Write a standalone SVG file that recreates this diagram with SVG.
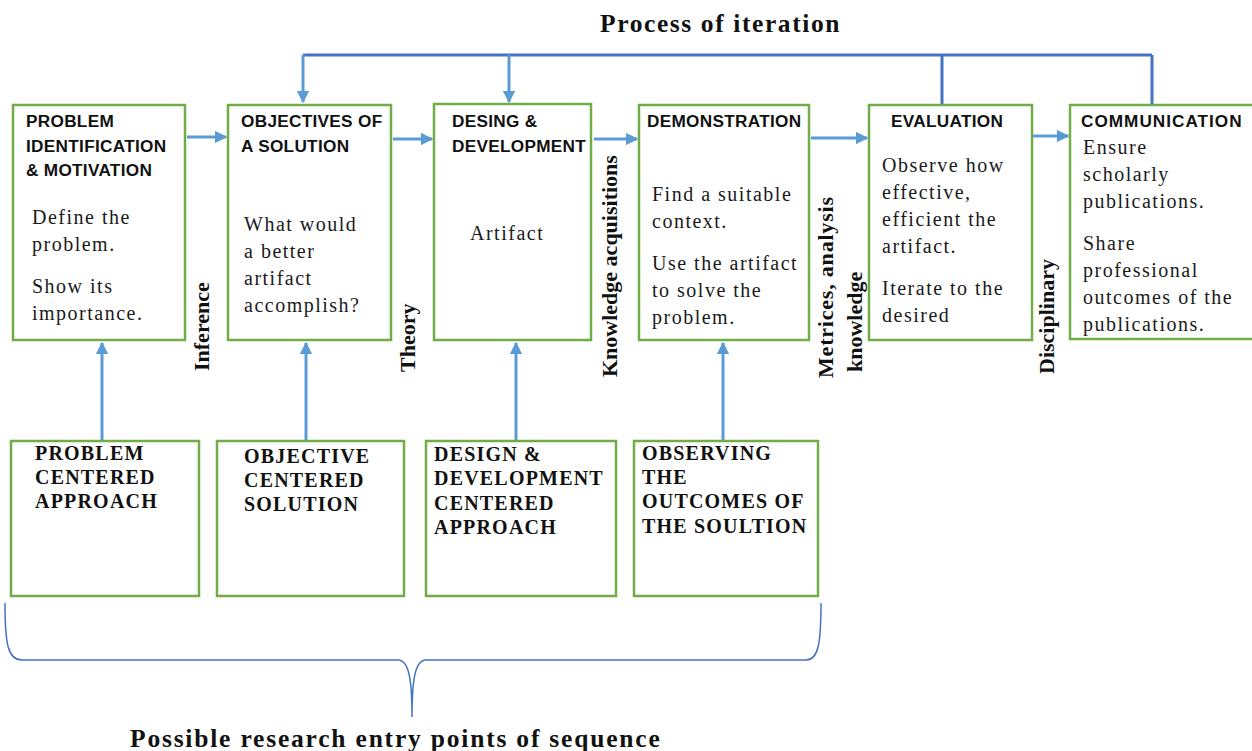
<svg xmlns="http://www.w3.org/2000/svg" width="1252" height="751" viewBox="0 0 1252 751">
  <style>
    .box { fill: #fff; stroke: #70AD47; stroke-width: 2.5; }
    .hdr { font-family: "Liberation Sans", Arial, sans-serif; font-weight: bold; font-size: 17.2px; letter-spacing: 0.3px; fill: #111; }
    .body { font-family: "Liberation Serif", "Times New Roman", serif; font-size: 20px; letter-spacing: 1.5px; fill: #1a1a1a; }
    .entry { font-family: "Liberation Serif", "Times New Roman", serif; font-weight: bold; font-size: 20px; letter-spacing: 1.2px; fill: #111; }
    .side { font-family: "Liberation Serif", "Times New Roman", serif; font-weight: bold; font-size: 22px; fill: #111; }
    .title { font-family: "Liberation Serif", "Times New Roman", serif; font-weight: bold; font-size: 25.5px; letter-spacing: 1.6px; fill: #111; }
    .flow { fill: none; stroke: #5B9BD5; stroke-width: 3; }
    .iter { fill: none; stroke: #4472C4; stroke-width: 3; }
    .brace { fill: none; stroke: #4472C4; stroke-width: 1.5; }
  </style>
  <defs>
    <marker id="arr" viewBox="0 0 10 10" refX="9" refY="5" markerWidth="4.2" markerHeight="4.2" markerUnits="strokeWidth" orient="auto">
      <path d="M0,0 L10,5 L0,10 z" fill="#5B9BD5"/>
    </marker>
  </defs>

  <rect width="1252" height="751" fill="#fff"/>

  <!-- title -->
  <text class="title" x="600" y="32">Process of iteration</text>

  <!-- connectors -->
  <g id="connectors">
    <!-- iteration loop -->
    <path class="iter" d="M303,55 H1152"/>
    <path class="iter" d="M942,55 V105"/>
    <path class="iter" d="M1152,55 V105"/>
    <path class="flow" d="M303,55 V102" marker-end="url(#arr)"/>
    <path class="flow" d="M509,55 V102" marker-end="url(#arr)"/>
    <!-- forward flow -->
    <path class="flow" d="M187,137 H226" marker-end="url(#arr)"/>
    <path class="flow" d="M393,139 H432" marker-end="url(#arr)"/>
    <path class="flow" d="M594,139 H637" marker-end="url(#arr)"/>
    <path class="flow" d="M811,138 H867" marker-end="url(#arr)"/>
    <path class="flow" d="M1033,136 H1068" marker-end="url(#arr)"/>
    <!-- entry points -->
    <path class="flow" d="M102,440 V343" marker-end="url(#arr)"/>
    <path class="flow" d="M306,440 V343" marker-end="url(#arr)"/>
    <path class="flow" d="M516,440 V343" marker-end="url(#arr)"/>
    <path class="flow" d="M723,440 V343" marker-end="url(#arr)"/>
    <!-- brace -->
    <path class="brace" d="M5,603 C5,645 8,660 22,660 L398,660 C409,660 412,680 412,717 C412,680 415,660 426,660 L806,660 C818,660 821,645 821,603"/>
  </g>

  <!-- process steps -->
  <g id="problem-identification">
    <rect class="box" x="13" y="105" width="172" height="235"/>
    <text class="hdr" x="26" y="127">PROBLEM</text>
    <text class="hdr" x="26" y="151.5">IDENTIFICATION</text>
    <text class="hdr" x="26" y="176">&amp; MOTIVATION</text>
    <text class="body" x="32" y="224">Define the</text>
    <text class="body" x="32" y="251">problem.</text>
    <text class="body" x="32" y="293">Show its</text>
    <text class="body" x="32" y="320">importance.</text>
  </g>

  <g id="objectives">
    <rect class="box" x="228" y="105" width="163" height="235"/>
    <text class="hdr" x="241" y="127">OBJECTIVES OF</text>
    <text class="hdr" x="241" y="151.5">A SOLUTION</text>
    <text class="body" x="244" y="231">What would</text>
    <text class="body" x="244" y="258">a better</text>
    <text class="body" x="244" y="285">artifact</text>
    <text class="body" x="244" y="312">accomplish?</text>
  </g>

  <g id="design-development">
    <rect class="box" x="434" y="104" width="157" height="236"/>
    <text class="hdr" x="452" y="127">DESING &amp;</text>
    <text class="hdr" x="452" y="151.5">DEVELOPMENT</text>
    <text class="body" x="470" y="240">Artifact</text>
  </g>

  <g id="demonstration">
    <rect class="box" x="639" y="105" width="170" height="235"/>
    <text class="hdr" x="647" y="127">DEMONSTRATION</text>
    <text class="body" x="652" y="201">Find a suitable</text>
    <text class="body" x="652" y="228">context.</text>
    <text class="body" x="652" y="270">Use the artifact</text>
    <text class="body" x="652" y="297">to solve the</text>
    <text class="body" x="652" y="324">problem.</text>
  </g>

  <g id="evaluation">
    <rect class="box" x="869" y="105" width="163" height="235"/>
    <text class="hdr" x="891" y="127">EVALUATION</text>
    <text class="body" x="882" y="172">Observe how</text>
    <text class="body" x="882" y="199">effective,</text>
    <text class="body" x="882" y="226">efficient the</text>
    <text class="body" x="882" y="253">artifact.</text>
    <text class="body" x="882" y="295">Iterate to the</text>
    <text class="body" x="882" y="322">desired</text>
  </g>

  <g id="communication">
    <rect class="box" x="1070" y="105" width="200" height="234"/>
    <text class="hdr" x="1081" y="127" style="letter-spacing:1px">COMMUNICATION</text>
    <text class="body" x="1083" y="154">Ensure</text>
    <text class="body" x="1083" y="181">scholarly</text>
    <text class="body" x="1083" y="208">publications.</text>
    <text class="body" x="1083" y="250">Share</text>
    <text class="body" x="1083" y="277">professional</text>
    <text class="body" x="1083" y="304">outcomes of the</text>
    <text class="body" x="1083" y="331">publications.</text>
  </g>

  <!-- labels between steps -->
  <g id="step-labels">
    <text class="side" transform="translate(209,371) rotate(-90)">Inference</text>
    <text class="side" transform="translate(415,372) rotate(-90)">Theory</text>
    <text class="side" transform="translate(617,377) rotate(-90)">Knowledge acquisitions</text>
    <text class="side" transform="translate(833,378) rotate(-90)" style="letter-spacing:0.8px">Metrices, analysis</text>
    <text class="side" transform="translate(862,372) rotate(-90)">knowledge</text>
    <text class="side" transform="translate(1054,374) rotate(-90)">Disciplinary</text>
  </g>

  <!-- entry points -->
  <g id="problem-centered">
    <rect class="box" x="11" y="441" width="188" height="155"/>
    <text class="entry" x="35" y="460">PROBLEM</text>
    <text class="entry" x="35" y="484">CENTERED</text>
    <text class="entry" x="35" y="508">APPROACH</text>
  </g>

  <g id="objective-centered">
    <rect class="box" x="217" y="441" width="187" height="155"/>
    <text class="entry" x="244" y="463">OBJECTIVE</text>
    <text class="entry" x="244" y="487">CENTERED</text>
    <text class="entry" x="244" y="511">SOLUTION</text>
  </g>

  <g id="design-centered">
    <rect class="box" x="426" y="441" width="190" height="155"/>
    <text class="entry" x="434" y="461">DESIGN &amp;</text>
    <text class="entry" x="434" y="485">DEVELOPMENT</text>
    <text class="entry" x="434" y="510">CENTERED</text>
    <text class="entry" x="434" y="534">APPROACH</text>
  </g>

  <g id="observing-outcomes">
    <rect class="box" x="634" y="441" width="184" height="155"/>
    <text class="entry" x="642" y="460">OBSERVING</text>
    <text class="entry" x="642" y="484">THE</text>
    <text class="entry" x="642" y="508">OUTCOMES OF</text>
    <text class="entry" x="642" y="533">THE SOULTION</text>
  </g>

  <text class="title" x="130" y="747" style="letter-spacing:1.8px">Possible research entry points of sequence</text>
</svg>
